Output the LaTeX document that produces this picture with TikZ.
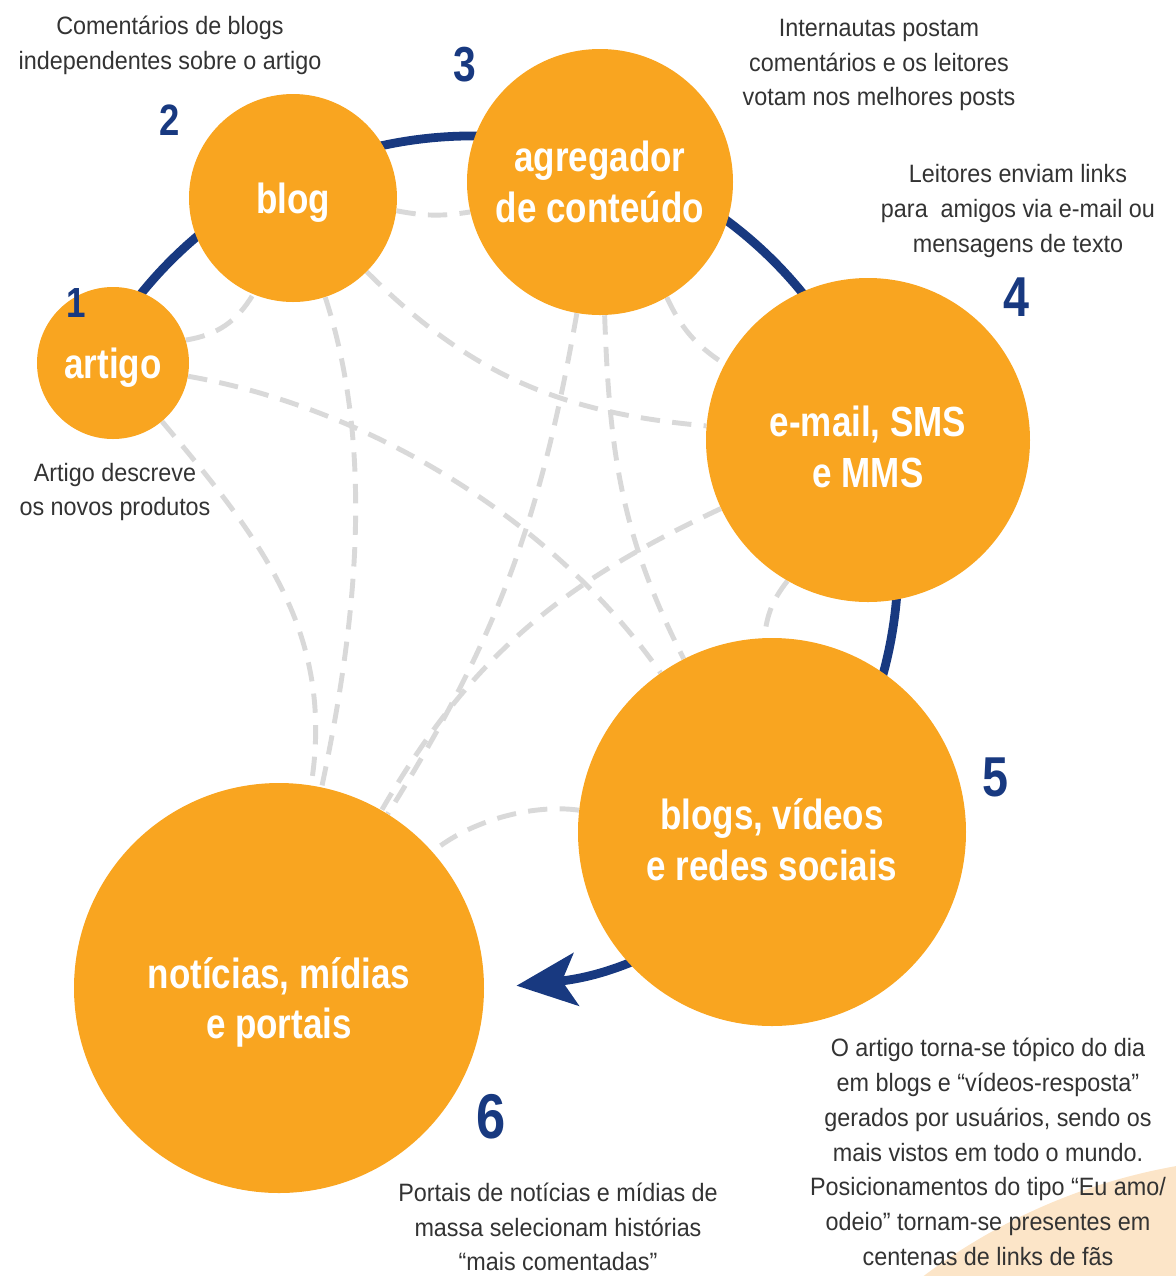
\documentclass[tikz,border=0pt]{standalone}
\usepackage{fontspec}
\setmainfont{Liberation Sans}
\newfontfamily\notefont[FakeStretch=0.93]{Liberation Sans}
\newfontfamily\circfont[FakeStretch=0.83]{Liberation Sans}
\usepackage{xcolor}
\usepackage{tikz}
\usetikzlibrary{arrows.meta, backgrounds}

\definecolor{tangerine}{HTML}{F9A520}
\definecolor{linkblue}{HTML}{183980}
\definecolor{dashgray}{HTML}{D9D9D9}
\definecolor{peach}{HTML}{FCE5C8}
\definecolor{notegray}{HTML}{333333}

\begin{document}
\begin{tikzpicture}[x=0.02cm, y=0.02cm,
  stage/.style={circle, fill=tangerine, inner sep=0pt, minimum size=#1*0.02cm, text=white, align=center,
    font=\circfont\bfseries\fontsize{24}{29}\selectfont},
  num/.style={text=linkblue, inner sep=0pt, font=\circfont\bfseries\fontsize{#1}{#1}\selectfont},
  note/.style={text=notegray, align=center, font=\notefont\fontsize{14.3}{19.8}\selectfont},
  link/.style={dashgray, line width=2.8pt, dash pattern=on 11pt off 7pt}]
\useasboundingbox (0,0) rectangle (1176,-1276);

% the six stages
\node[stage=152, text height=23pt] (artigo) at (113,-363) {artigo};
\node[stage=208, text height=23pt] (blog) at (293,-198) {blog};
\node[stage=266] (agregador) at (600,-182) {agregador\\de conteúdo};
\node[stage=324, text height=54.5pt] (email) at (868,-440) {e-mail, SMS\\e MMS};
\node[stage=388, text height=55.5pt] (redes) at (772,-832) {blogs, vídeos\\e redes sociais};
\node[stage=410, text height=63pt] (portais) at (279,-988) {notícias, mídias\\e portais};

\node[num=24] (n1) at (76,-303) {1};
\node[num=25] (n2) at (170,-120) {2};
\node[num=28] (n3) at (465,-65) {3};
\node[num=32] (n4) at (1016,-297) {4};
\node[num=32] (n5) at (995,-777) {5};
\node[num=36] (n6) at (491,-1117) {6};

% notes
\node[note] (blognote) at (170,-45) {Comentários de blogs\\independentes sobre o artigo};
\node[note] (agregnote) at (879,-65) {Internautas postam\\comentários e os leitores\\votam nos melhores posts};
\node[note] (emailnote) at (1018,-211) {Leitores enviam links\\para\ \ amigos via e-mail ou\\mensagens de texto};
\node[note] (artigonote) at (115,-492) {Artigo descreve\\os novos produtos};
\node[note] (redesnote) at (988,-1152) {O artigo torna-se tópico do dia\\em blogs e “vídeos-resposta”\\gerados por usuários, sendo os\\mais vistos em todo o mundo.\\Posicionamentos do tipo “Eu amo/\\odeio” tornam-se presentes em\\centenas de links de fãs};
\node[note] (portaisnote) at (558,-1227) {Portais de notícias e mídias de\\massa selecionam histórias\\“mais comentadas”};

\begin{scope}[on background layer]
  \begin{scope}
    \clip (0,0) rectangle (1176,-1276);
    \fill[peach] (1280,-1750) circle[radius=593];
  \end{scope}

  % links between stages
  \draw[link] (artigo) to[bend right=25] (blog);
  \draw[link] (blog) to[bend right=10] (agregador);
  \draw[link] (artigo) to[out=-10, in=125, looseness=0.85] (redes);
  \draw[link] (artigo) to[out=-50, in=81] (portais);
  \draw[link] (blog) to[out=-45, in=175] (email);
  \draw[link] (blog) to[out=-72, in=78, looseness=0.85] (portais);
  \draw[link] (agregador) to[bend right=16] (email);
  \draw[link] (agregador) to[out=-88, in=117] (redes);
  \draw[link] (agregador) to[out=-100, in=58] (portais);
  \draw[link] (email) to[bend right=16] (redes);
  \draw[link] (email) to[out=205, in=60] (portais);
  \draw[link] (redes) to[bend right=24, looseness=0.8] (portais);

  % the path of the story
  \coordinate (hub) at (472,-562);
  \draw[linkblue, line width=5pt, -{Stealth[length=34pt, width=30pt, inset=8pt]}]
    ([shift={(150:426)}]hub) arc[start angle=150, end angle=-84, radius=426];
\end{scope}
\end{tikzpicture}
\end{document}
